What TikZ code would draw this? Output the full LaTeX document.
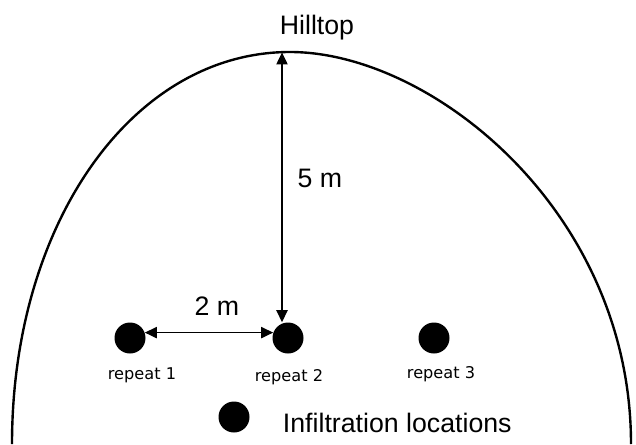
\documentclass[tikz,border=0pt]{standalone}
\usepackage{fontspec}
\setmainfont{Liberation Sans}
\newfontfamily\repfont{DejaVu Sans}
\usetikzlibrary{arrows.meta}

\begin{document}
\begin{tikzpicture}[
  dot/.style={circle,fill=black,minimum size=0.775cm,inner sep=0pt},
  replabel/.style={anchor=base,font=\repfont\fontsize{11.5}{13}\selectfont},
  bigtext/.style={anchor=base,font=\fontsize{19}{22}\selectfont},
  measure/.style={{Triangle[length=3mm,width=2.8mm]}-{Triangle[length=3mm,width=2.8mm]},line width=1pt}
]
\useasboundingbox (0,0) rectangle (15.9,11.1);

% hill outline
\draw[line width=1.7pt] (0.3,0) .. controls (0.3,5.5) and (3.3,9.8) .. (7.25,9.8)
  .. controls (10.8,9.8) and (15.775,5.8) .. (15.775,0);
\coordinate (top) at (7.05,9.79);
\node[bigtext] (hilltop) at (7.925,10.25) {Hilltop};

% repeats
\node[dot] (r1) at (3.25,2.65) {};
\node[dot] (r2) at (7.2,2.65) {};
\node[dot] (r3) at (10.85,2.65) {};
\node[replabel] (lab1) at (3.55,1.625) {repeat 1};
\node[replabel] (lab2) at (7.225,1.575) {repeat 2};
\node[replabel] (lab3) at (11.025,1.65) {repeat 3};

% distances
\draw[measure] (top) -- (top |- r2.north);
\node[bigtext] (fivem) at (8.0,6.425) {5 m};
\draw[measure] (r1.20) -- (r2.160);
\node[bigtext] (twom) at (5.425,3.225) {2 m};

% legend
\node[dot] (key) at (5.85,0.675) {};
\node[bigtext,anchor=base west] (keytext) at (6.95,0.3) {Infiltration locations};
\end{tikzpicture}
\end{document}
